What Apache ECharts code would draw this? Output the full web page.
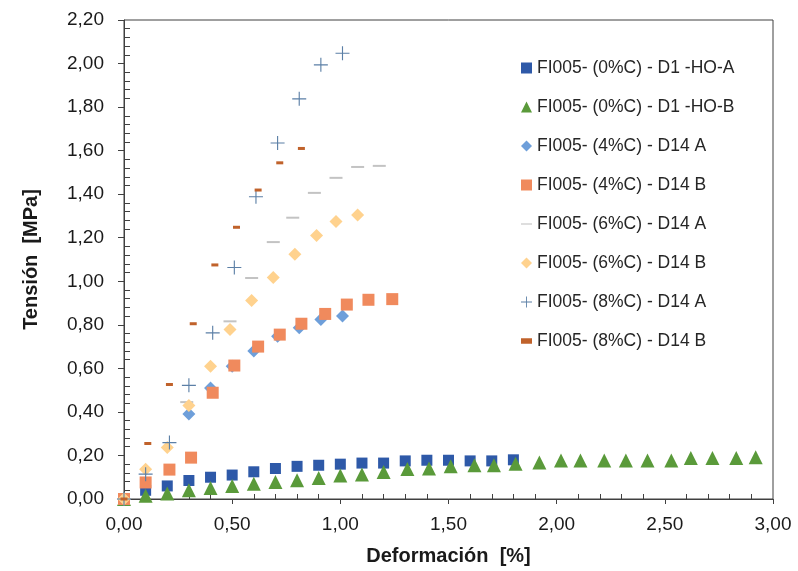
<!DOCTYPE html>
<html>
<head>
<meta charset="utf-8">
<script src="https://cdn.jsdelivr.net/npm/echarts@6/dist/echarts.min.js"></script>
<style>html,body{margin:0;padding:0;background:#fff}#c{width:798px;height:571px}</style>
</head>
<body>
<div id="c"></div>
<script>
var names = [
  'FI005- (0%C) - D1 -HO-A',
  'FI005- (0%C) - D1 -HO-B',
  'FI005- (4%C) - D14 A',
  'FI005- (4%C) - D14 B',
  'FI005- (6%C) - D14 A',
  'FI005- (6%C) - D14 B',
  'FI005- (8%C) - D14 A',
  'FI005- (8%C) - D14 B'
];
// 0%C D1-HO-A
var xA0 = [0,0.1,0.2,0.3,0.4,0.5,0.6,0.7,0.8,0.9,1.0,1.1,1.2,1.3,1.4,1.5,1.6,1.7,1.8];
var yA0 = [0,0.04,0.06,0.085,0.10,0.11,0.125,0.14,0.15,0.155,0.16,0.165,0.165,0.175,0.178,0.178,0.175,0.175,0.18];
// 0%C D1-HO-B
var xB0 = [0,0.1,0.2,0.3,0.4,0.5,0.6,0.7,0.8,0.9,1.0,1.1,1.2,1.31,1.41,1.51,1.62,1.71,1.81,1.92,2.02,2.11,2.22,2.32,2.42,2.53,2.62,2.72,2.83,2.92];
var yB0 = [0,0.015,0.025,0.04,0.05,0.06,0.07,0.078,0.086,0.097,0.108,0.112,0.124,0.138,0.14,0.15,0.155,0.155,0.162,0.168,0.177,0.177,0.177,0.177,0.177,0.177,0.188,0.188,0.188,0.192];
// 4%C D14 A
var xA4 = [0,0.3,0.4,0.5,0.6,0.71,0.81,0.91,1.01];
var yA4 = [0,0.39,0.51,0.61,0.68,0.747,0.786,0.824,0.84];
// 4%C D14 B
var xB4 = [0,0.1,0.21,0.31,0.41,0.51,0.62,0.72,0.82,0.93,1.03,1.13,1.24];
var yB4 = [0,0.076,0.135,0.19,0.488,0.613,0.70,0.755,0.805,0.85,0.893,0.915,0.918];
// 6%C D14 A
var xA6 = [0,0.29,0.49,0.59,0.69,0.78,0.88,0.98,1.08,1.18];
var yA6 = [0,0.445,0.816,1.015,1.18,1.292,1.406,1.475,1.525,1.53];
// 6%C D14 B
var xB6 = [0,0.1,0.2,0.3,0.4,0.49,0.59,0.69,0.79,0.89,0.98,1.08];
var yB6 = [0,0.137,0.236,0.43,0.61,0.778,0.912,1.017,1.124,1.21,1.274,1.304];
// 8%C D14 A
var xA8 = [0,0.1,0.21,0.3,0.41,0.51,0.61,0.71,0.81,0.91,1.01];
var yA8 = [0,0.114,0.259,0.522,0.763,1.063,1.388,1.635,1.838,1.994,2.047];
// 8%C D14 B
var xB8 = [0,0.11,0.21,0.32,0.42,0.52,0.62,0.72,0.82];
var yB8 = [0,0.255,0.526,0.805,1.075,1.248,1.419,1.544,1.61];

var xTicks = [0,0.5,1,1.5,2,2.5,3];
var yTicks = [0,0.2,0.4,0.6,0.8,1.0,1.2,1.4,1.6,1.8,2.0,2.2];

function pairs(xs, ys){ return xs.map(function(x,i){ return [x, ys[i]]; }); }
function fmt(v){ return v.toFixed(2).replace('.', ','); }

var plus = 'path://M4.6,0H5.4V10H4.6ZM0,4.6H10V5.4H0Z';
var styles = [
  {symbol:'rect', size:11, color:'#2E59A8', legendIcon:'rect'},
  {symbol:'triangle', size:14, color:'#5A9A3A', legendIcon:'triangle'},
  {symbol:'diamond', size:13, color:'#6E9FDA', legendIcon:'diamond'},
  {symbol:'rect', size:12, color:'#F08A5D', legendIcon:'rect'},
  {symbol:'rect', size:[13,2], color:'#C3C3C3', legendIcon:'path://M0,4.5H10V5.5H0Z'},
  {symbol:'diamond', size:13, color:'#FFD28E', legendIcon:'diamond'},
  {symbol:plus, size:14, color:'#5B7FA6', legendIcon:plus},
  {symbol:'rect', size:[7,3], color:'#C0622B', legendIcon:'path://M3,4H7V6H3Z'}
];
var dataSets = [pairs(xA0,yA0), pairs(xB0,yB0), pairs(xA4,yA4), pairs(xB4,yB4), pairs(xA6,yA6), pairs(xB6,yB6), pairs(xA8,yA8), pairs(xB8,yB8)];

var series = names.map(function(n, i){
  return {
    name: n, type: 'scatter', data: dataSets[i],
    symbol: styles[i].symbol, symbolSize: styles[i].size,
    itemStyle: {color: styles[i].color, opacity: 1},
    emphasis: {disabled: true}
  };
});

var chart = echarts.init(document.getElementById('c'), null, {renderer:'canvas'});
chart.setOption({
  animation: false,
  backgroundColor: '#fff',
  textStyle: {fontFamily: 'Liberation Sans, Arial, sans-serif'},
  grid: {left: 124, right: 25, top: 20, bottom: 71, show: true, borderColor: '#404040', borderWidth: 1},
  legend: {
    orient: 'vertical', left: 516, top: 54, itemGap: 21, itemWidth: 11, itemHeight: 11,
    textStyle: {fontSize: 17.5, color: '#262626', fontFamily: 'Liberation Sans, Arial, sans-serif'},
    data: names.map(function(n,i){ return {name: n, icon: styles[i].legendIcon, itemStyle: {color: styles[i].color}}; })
  },
  xAxis: {
    type: 'value', min: 0, max: 3, interval: 0.5,
    name: 'Deformación  [%]', nameLocation: 'middle', nameGap: 47,
    nameTextStyle: {fontSize: 20, fontWeight: 'bold', color: '#1a1a1a'},
    axisLine: {lineStyle: {color: '#404040', width: 1}},
    axisTick: {show: true, length: 5, lineStyle: {color: '#404040'}},
    minorTick: {show: true, splitNumber: 5, length: -5, lineStyle: {color: '#404040'}},
    splitLine: {show: false},
    axisLabel: {formatter: function(v){ return fmt(v); }, fontSize: 19, color: '#1a1a1a', margin: 16}
  },
  yAxis: {
    type: 'value', min: 0, max: 2.2, interval: 0.2,
    name: 'Tensión  [MPa]', nameLocation: 'middle', nameGap: 83, nameRotate: 90,
    nameTextStyle: {fontSize: 20, fontWeight: 'bold', color: '#1a1a1a'},
    axisLine: {show: true, lineStyle: {color: '#404040', width: 1}},
    axisTick: {show: true, length: 6, lineStyle: {color: '#404040'}},
    minorTick: {show: true, splitNumber: 5, length: -6, lineStyle: {color: '#404040'}},
    splitLine: {show: false},
    axisLabel: {formatter: function(v){ return fmt(v); }, fontSize: 19, color: '#1a1a1a', margin: 20}
  },
  series: series
});
</script>
</body>
</html>
